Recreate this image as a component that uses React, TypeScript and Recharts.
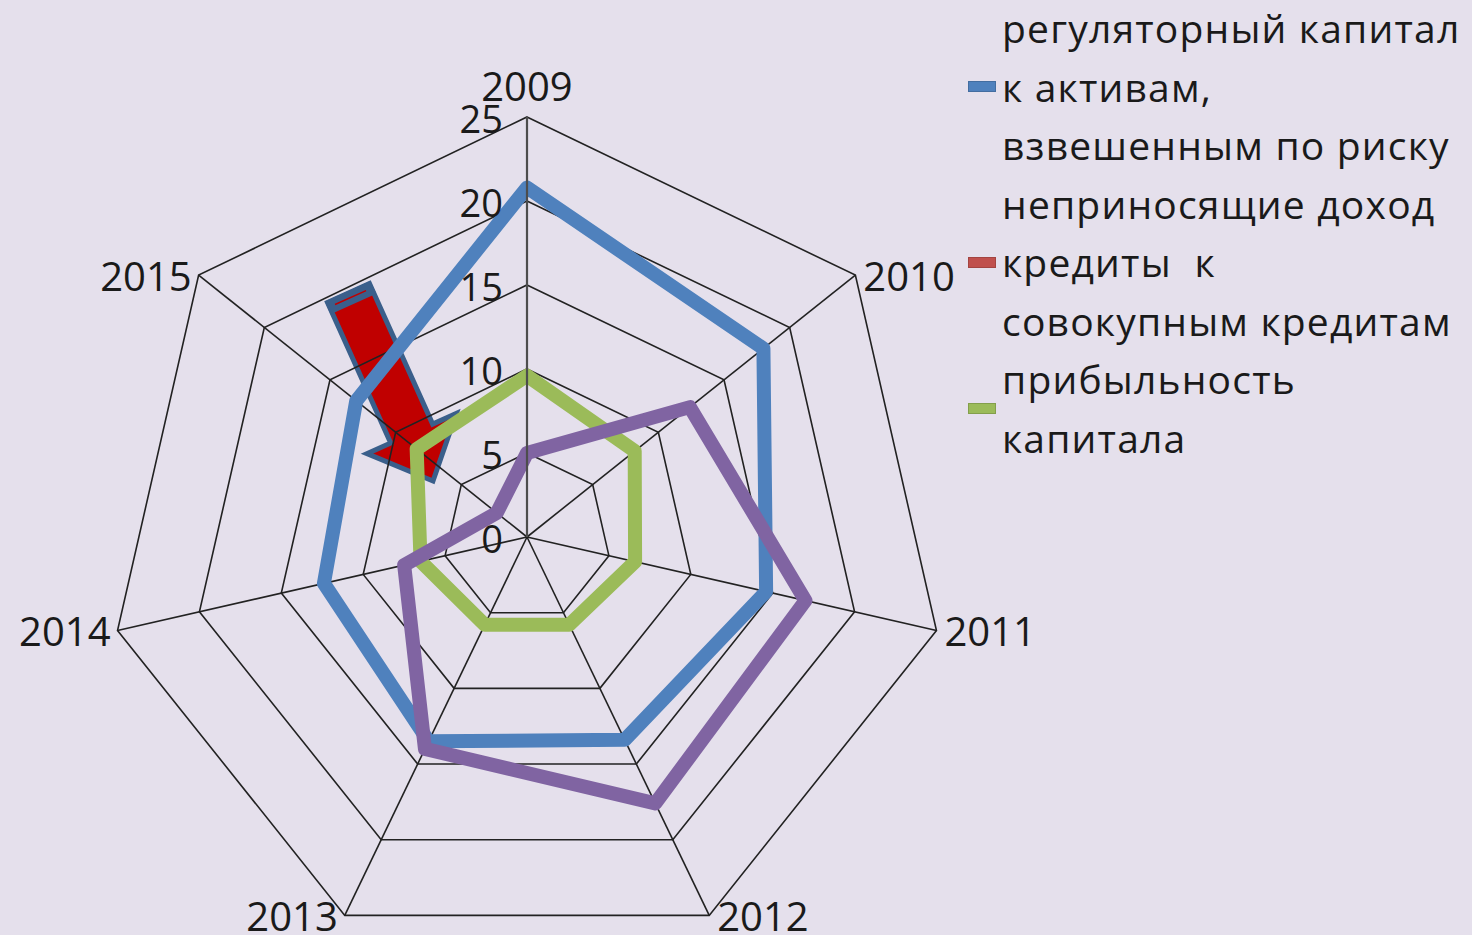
import { RadarChart, Radar, PolarGrid, PolarAngleAxis, PolarRadiusAxis, Legend } from 'recharts';

// years on the spokes, clockwise from the top
const years = ['2009', '2010', '2011', '2012', '2013', '2014', '2015'];
const capitalToRwa = [20.8, 18.0, 14.6, 13.4, 13.5, 12.4, 13.0];
const badLoansShare = [5.0, 12.4, 17.0, 17.6, 14.0, 7.5, 2.3];
const returnOnCapital = [9.6, 8.2, 6.6, 5.8, 5.8, 6.5, 8.4];
const radiusTicks = [0, 5, 10, 15, 20, 25];

const legendItems = [
  { lines: ['регуляторный капитал', 'к активам,', 'взвешенным по риску'], marker: '#4F81BD' },
  { lines: ['неприносящие доход', 'кредиты  к', 'совокупным кредитам'], marker: '#C0504D' },
  { lines: ['прибыльность', 'капитала'], marker: '#9BBB59' },
];

const data = years.map((year, i) => ({
  year,
  capital: capitalToRwa[i],
  npl: badLoansShare[i],
  roe: returnOnCapital[i],
}));

const W = 1472;
const H = 935;
const CX = 527;
const CY = 537;
const R = 420;
const LINE_W = 14;
const FONT = '"Open Sans", sans-serif';

function AngleTick(props: any) {
  const { payload } = props;
  const rad = (payload.coordinate * Math.PI) / 180;
  const cos = Math.cos(rad);
  const vx = CX + R * cos;
  const vy = CY - R * Math.sin(rad);
  let anchor: 'start' | 'end' | 'middle' = 'middle';
  let x = vx;
  let y = vy;
  if (cos > 0.01) {
    anchor = 'start';
    x = vx + 8;
  } else if (cos < -0.01) {
    anchor = 'end';
    x = vx - 7;
  } else {
    y = vy - 32;
  }
  return (
    <text x={x} y={y} textAnchor={anchor} dominantBaseline="central" fontSize={40} fontFamily={FONT} fill="#1a1a1a">
      {payload.value}
    </text>
  );
}

function RadiusTick(props: any) {
  const { x, y, payload } = props;
  return (
    <text x={x - 24} y={y + 1} textAnchor="end" dominantBaseline="central" fontSize={38} fontFamily={FONT} fill="#1a1a1a">
      {payload.value}
    </text>
  );
}

function LegendBox() {
  return (
    <div style={{ fontFamily: FONT, fontSize: 39, letterSpacing: 1.2, color: '#1a1a1a', lineHeight: '58.5px' }}>
      {legendItems.map((item) => (
        <div key={item.lines[0]} style={{ display: 'flex', alignItems: 'center' }}>
          <div style={{ width: 26, height: 9, background: item.marker, border: '1px solid rgba(0,0,0,0.15)', marginRight: 6 }} />
          <div style={{ whiteSpace: 'pre' }}>
            {item.lines.map((l) => (
              <div key={l}>{l}</div>
            ))}
          </div>
        </div>
      ))}
    </div>
  );
}

// hand-drawn block arrow that sits behind the chart
function Arrow() {
  const sx = 348.5;
  const sy = 293;
  const tx = 433;
  const ty = 481;
  const len = Math.hypot(tx - sx, ty - sy);
  const ux = (tx - sx) / len;
  const uy = (ty - sy) / len;
  const nx = -uy;
  const ny = ux;
  const pt = (a: number, p: number) => `${sx + a * ux + p * nx},${sy + a * uy + p * ny}`;
  const hw = 23;
  const headA = len - 52;
  const outline = [pt(0, -hw), pt(0, hw), pt(headA, hw), pt(headA, 49), pt(len, 0), pt(headA, -49), pt(headA, -hw)].join(' ');
  const band = [pt(-2, -hw - 2), pt(-2, hw + 2), pt(12, hw + 2), pt(12, -hw - 2)].join(' ');
  return (
    <svg width={W} height={H} style={{ position: 'absolute', left: 0, top: 0 }}>
      <polygon points={outline} fill="#C00000" stroke="#3A5F8B" strokeWidth={5} strokeLinejoin="miter" />
      <polygon points={band} fill="#3A5F8B" />
      <line
        x1={sx + 5 * ux - 17 * nx}
        y1={sy + 5 * uy - 17 * ny}
        x2={sx + 5 * ux + 17 * nx}
        y2={sy + 5 * uy + 17 * ny}
        stroke="#C00000"
        strokeWidth={1.5}
      />
    </svg>
  );
}

export default function App() {
  return (
    <div style={{ position: 'absolute', left: 0, top: 0, width: W, height: H, background: '#E5E0EC', overflow: 'hidden' }}>
      <Arrow />
      <div style={{ position: 'absolute', left: 0, top: 0 }}>
        <RadarChart width={W} height={H} data={data} cx={CX} cy={CY} outerRadius={R} startAngle={90} endAngle={-270}>
          <PolarGrid gridType="polygon" stroke="#222" strokeWidth={1.6} />
          <PolarAngleAxis dataKey="year" tick={<AngleTick />} axisLine={false} tickLine={false} />
          <PolarRadiusAxis
            angle={90}
            domain={[0, 25]}
            ticks={radiusTicks}
            tick={<RadiusTick />}
            axisLine={{ stroke: '#4d4d4d', strokeWidth: 2.2 }}
          />
          <Radar dataKey="capital" stroke="#4F81BD" strokeWidth={LINE_W} fill="none" fillOpacity={0} strokeLinejoin="round" dot={false} isAnimationActive={false} />
          <Radar dataKey="roe" stroke="#9BBB59" strokeWidth={LINE_W} fill="none" fillOpacity={0} strokeLinejoin="round" dot={false} isAnimationActive={false} />
          <Radar dataKey="npl" stroke="#8064A2" strokeWidth={LINE_W} fill="none" fillOpacity={0} strokeLinejoin="round" dot={false} isAnimationActive={false} />
          <Legend
            verticalAlign="top"
            align="right"
            layout="vertical"
            wrapperStyle={{ top: -1, left: 968, width: 504 }}
            content={<LegendBox />}
          />
        </RadarChart>
      </div>
    </div>
  );
}
